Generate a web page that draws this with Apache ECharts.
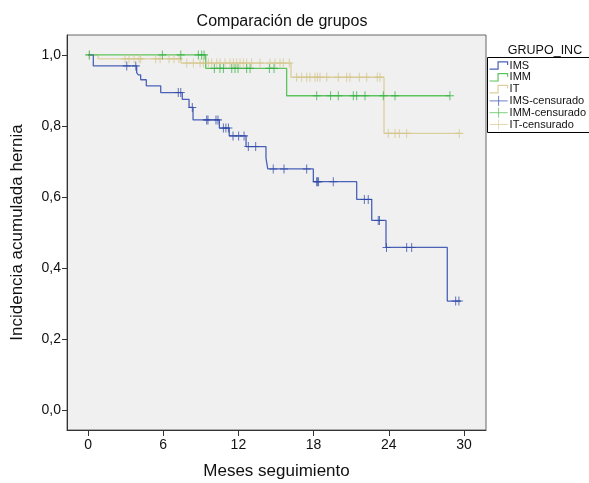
<!DOCTYPE html>
<html>
<head>
<meta charset="utf-8">
<script src="https://cdn.jsdelivr.net/npm/echarts@6/dist/echarts.min.js"></script>
<style>html,body{margin:0;padding:0;background:#fff}#c{width:589px;height:483px}</style>
</head>
<body>
<div id="c"></div>
<script>
// ---- data (months, cumulative incidence as plotted) ----
const xTicks = [0, 6, 12, 18, 24, 30];
const yTicks = [0, 0.2, 0.4, 0.6, 0.8, 1.0];

const imsTimes  = [0, 0.42, 3.88, 4.01, 4.2, 4.65, 5.8, 7.52, 8.06, 8.38, 10.48, 11.27, 12.61, 14.2, 14.34, 17.98, 21.44, 22.64, 23.78, 28.67, 29.76];
const imsValues = [1.0, 0.969, 0.95, 0.944, 0.93, 0.913, 0.894, 0.875, 0.852, 0.817, 0.794, 0.772, 0.742, 0.71, 0.679, 0.643, 0.593, 0.534, 0.458, 0.307, 0.307];
const imsCensor = [3.09, 3.81, 7.2, 7.4, 8.32, 9.47, 9.57, 10.21, 10.37, 10.8, 11.0, 11.2, 11.57, 12.02, 12.45, 12.79, 13.38, 14.78, 15.64, 17.45, 18.25, 18.3, 18.4, 19.57, 22.05, 22.36, 23.16, 23.26, 23.82, 25.43, 25.83, 29.34, 29.6];

const immTimes  = [0, 9.39, 15.85, 28.88];
const immValues = [1.0, 0.962, 0.885, 0.885];
const immCensor = [0.1, 5.93, 7.4, 8.8, 9.07, 9.26, 10.08, 10.53, 10.8, 11.47, 11.73, 11.97, 12.66, 12.93, 14.47, 14.84, 18.25, 19.36, 19.97, 21.17, 21.44, 22.1, 23.56, 24.5, 28.88];

const itTimes  = [0, 0.8, 7.42, 16.2, 23.62, 29.63];
const itValues = [1.0, 0.989, 0.977, 0.937, 0.779, 0.779];
const itCensor = [0.1, 2.95, 3.27, 3.67, 4.07, 4.2, 5.4, 5.75, 6.46, 6.86, 7.26, 7.88, 8.4, 8.94, 9.2, 9.6, 9.87, 10.27, 10.53, 10.93, 11.33, 11.6, 11.86, 12.13, 12.39, 12.66, 13.06, 13.72, 14.52, 14.92, 15.32, 15.58, 16.06, 16.65, 17.05, 17.45, 17.71, 18.11, 18.3, 18.51, 19.05, 19.97, 20.64, 20.9, 21.65, 22.24, 23.08, 23.3, 23.96, 24.5, 24.84, 25.43, 29.63];

const groupNames = ['IMS', 'IMM', 'IT'];
const censorNames = ['IMS-censurado', 'IMM-censurado', 'IT-censurado'];

// ---- helpers ----
function curve(times, values) { return times.map((t, i) => [t, values[i]]); }
function valueAt(times, values, t) {
  let v = values[0];
  for (let i = 0; i < times.length; i++) { if (times[i] <= t) v = values[i]; }
  return v;
}
function censorPts(times, values, cens) { return cens.map(t => [t, valueAt(times, values, t)]); }

const lineCols = ['#4a62b8', '#5cc45c', '#dccf9e'];
const markCols = ['#2f48a6', '#35b045', '#d3c48a'];
const plus = 'path://M5,0 L5,10 M0,5 L10,5';
const stepIcon = 'path://M0,9 L8,9 L8,2 L17,2 L17,5';
const plusIcon = 'path://M0,5 L18,5 M9,0 L9,10';
const font = '"Liberation Sans", Arial, Helvetica, sans-serif';

const curves = [curve(imsTimes, imsValues), curve(immTimes, immValues), curve(itTimes, itValues)];
const cens = [censorPts(imsTimes, imsValues, imsCensor), censorPts(immTimes, immValues, immCensor), censorPts(itTimes, itValues, itCensor)];

const series = [];
// draw order: IT, IMM, IMS so IMS is on top
[2, 1, 0].forEach(i => {
  series.push({
    name: groupNames[i], type: 'line', step: 'end', data: curves[i],
    showSymbol: false, symbol: 'none', silent: true, animation: false,
    lineStyle: { color: lineCols[i], width: 1.3 }, itemStyle: { color: lineCols[i] }, z: 2 + (2 - i)
  });
  series.push({
    name: censorNames[i], type: 'scatter', data: cens[i], symbol: plus, symbolSize: [8, 9],
    silent: true, animation: false,
    itemStyle: { color: 'rgba(0,0,0,0)', borderColor: markCols[i], borderWidth: 1 }, z: 3 + (2 - i)
  });
});

const legendData = [];
groupNames.forEach((n, i) => legendData.push({ name: n, icon: stepIcon,
  itemStyle: { color: 'rgba(0,0,0,0)', borderColor: lineCols[i], borderWidth: 1.2 } }));
censorNames.forEach((n, i) => legendData.push({ name: n, icon: plusIcon,
  itemStyle: { color: 'rgba(0,0,0,0)', borderColor: lineCols[i], borderWidth: 1 } }));

const chart = echarts.init(document.getElementById('c'), null, { renderer: 'canvas' });
chart.setOption({
  animation: false,
  backgroundColor: '#ffffff',
  title: [
    { text: 'Comparación de grupos', left: 277, top: 9, textAlign: 'center',
      textStyle: { fontFamily: font, fontSize: 16, fontWeight: 'normal', color: '#111' } },
    { text: 'GRUPO_INC', left: 540, top: 39, textAlign: 'center',
      textStyle: { fontFamily: font, fontSize: 12.5, fontWeight: 'normal', color: '#111' } }
  ],
  graphic: [
    { type: 'rect', shape: { x: 487.5, y: 57.5, width: 120, height: 75 },
      style: { fill: '#fff', stroke: '#000', lineWidth: 1 }, z: 0 }
  ],
  legend: {
    orient: 'vertical', left: 489, top: 60, padding: 0, itemGap: 0.8,
    itemWidth: 18, itemHeight: 10, selectedMode: false,
    textStyle: { fontFamily: font, fontSize: 11, color: '#111', padding: [0, 0, 0, -3] },
    data: legendData, z: 5
  },
  grid: { left: 67, right: 103, top: 35, bottom: 53, show: true, outerBoundsMode: 'none',
    containLabel: false,
    backgroundColor: '#f0f0f0', borderColor: '#666', borderWidth: 1 },
  xAxis: {
    type: 'value', min: -1.68, max: 31.76,
    name: 'Meses seguimiento', nameLocation: 'middle', nameGap: 33,
    nameTextStyle: { fontFamily: font, fontSize: 17, color: '#111' },
    axisLine: { show: true, onZero: false, lineStyle: { color: '#333', width: 1 } },
    axisTick: { show: true, length: 6, customValues: xTicks, lineStyle: { color: '#333' } },
    axisLabel: { customValues: xTicks, fontFamily: font, fontSize: 14, color: '#111', margin: 8 },
    splitLine: { show: false }
  },
  yAxis: {
    type: 'value', min: -0.056, max: 1.056,
    name: 'Incidencia acumulada hernia', nameLocation: 'middle', nameGap: 41, nameRotate: 90,
    nameTextStyle: { fontFamily: font, fontSize: 17, color: '#111' },
    axisLine: { show: true, onZero: false, lineStyle: { color: '#333', width: 1 } },
    axisTick: { show: true, length: 5, customValues: yTicks, lineStyle: { color: '#333' } },
    axisLabel: { customValues: yTicks, fontFamily: font, fontSize: 14, color: '#111', margin: 6,
      formatter: v => v.toFixed(1).replace('.', ',') },
    splitLine: { show: false }
  },
  series: series
});
</script>
</body>
</html>
